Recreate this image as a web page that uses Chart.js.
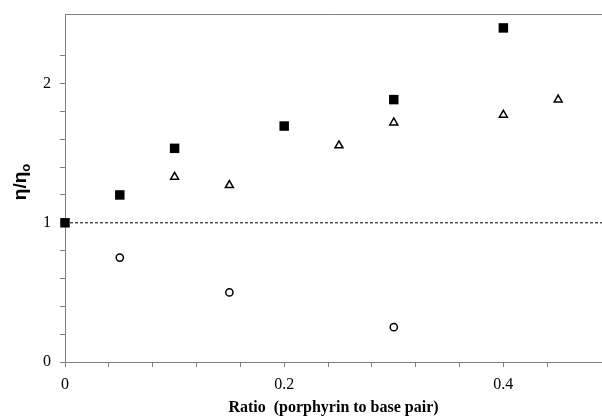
<!DOCTYPE html>
<html>
<head>
<meta charset="utf-8">
<script src="https://cdn.jsdelivr.net/npm/chart.js@4.4.1/dist/chart.umd.min.js"></script>
<style>
    html, body { margin: 0; padding: 0; background: #fff; }
    #wrap { width: 602px; height: 420px; }
</style>
</head>
<body>
<div id="wrap"><canvas id="viscChart" width="602" height="420"></canvas></div>
<script>
// ratio (porphyrin to base pair) vs relative viscosity
const squareX = [0, 0.05, 0.1, 0.2, 0.3, 0.4];
const squareY = [1.0, 1.2, 1.535, 1.695, 1.885, 2.4];

const triangleX = [0.1, 0.15, 0.25, 0.3, 0.4, 0.45];
const triangleY = [1.33, 1.27, 1.555, 1.72, 1.775, 1.885];

const circleX = [0.05, 0.15, 0.3];
const circleY = [0.75, 0.5, 0.25];

const refLineX = [0, 0.49];
const refLineY = [1, 1];

const xTickLabels = [0, 0.2, 0.4];
const yTickLabels = [0, 1, 2];

const AXIS_GREY = '#7f7f7f';

function toPoints(xs, ys) {
    return xs.map((x, i) => ({ x: x, y: ys[i] }));
}

function isLabelled(value, list) {
    return list.some(v => Math.abs(v - value) < 1e-6);
}

// keep only ticks sitting on the step (drop the extra max tick)
function onStep(step) {
    return function(scale) {
        scale.ticks = scale.ticks.filter(t => Math.abs(t.value / step - Math.round(t.value / step)) < 1e-6);
    };
}

// fixed axis size, no label overflow padding
function fixSize(prop, size) {
    return function(scale) {
        scale[prop] = size;
        scale.paddingTop = 0;
        scale.paddingBottom = 0;
        scale.paddingLeft = 0;
        scale.paddingRight = 0;
    };
}

const frameAndTitles = {
    id: 'frameAndTitles',
    afterDraw(chart) {
        const { ctx, chartArea } = chart;
        ctx.save();
        // top frame line
        ctx.strokeStyle = AXIS_GREY;
        ctx.lineWidth = 1;
        ctx.beginPath();
        ctx.moveTo(chartArea.left, chartArea.top + 0.5);
        ctx.lineTo(chartArea.right, chartArea.top + 0.5);
        ctx.stroke();

        // y axis title: eta / eta-sub-o
        ctx.translate(21, 182);
        ctx.rotate(-Math.PI / 2);
        ctx.fillStyle = '#000';
        ctx.textBaseline = 'middle';
        ctx.textAlign = 'left';
        ctx.font = 'bold 19px "Liberation Sans", Arial, sans-serif';
        const main = 'η/η';
        const w = ctx.measureText(main).width;
        ctx.font = 'bold 13px "Liberation Sans", Arial, sans-serif';
        const ws = ctx.measureText('o').width;
        const start = -(w + ws) / 2;
        ctx.font = 'bold 19px "Liberation Sans", Arial, sans-serif';
        ctx.fillText(main, start, 0);
        ctx.font = 'bold 13px "Liberation Sans", Arial, sans-serif';
        ctx.fillText('o', start + w, 5);
        ctx.restore();
    }
};

const ctx = document.getElementById('viscChart');

new Chart(ctx, {
    type: 'scatter',
    data: {
        datasets: [
            {
                label: 'squares',
                data: toPoints(squareX, squareY),
                pointStyle: 'rect',
                pointRadius: 6.7,
                backgroundColor: '#000',
                borderColor: '#000',
                borderWidth: 0,
                clip: false,
                order: 1
            },
            {
                label: 'triangles',
                data: toPoints(triangleX, triangleY),
                pointStyle: 'triangle',
                pointRadius: 4.6,
                backgroundColor: '#fff',
                borderColor: '#000',
                borderWidth: 1.5,
                clip: false,
                order: 1
            },
            {
                label: 'circles',
                data: toPoints(circleX, circleY),
                pointStyle: 'circle',
                pointRadius: 3.6,
                backgroundColor: '#fff',
                borderColor: '#000',
                borderWidth: 1.5,
                clip: false,
                order: 1
            },
            {
                type: 'line',
                label: 'reference',
                data: toPoints(refLineX, refLineY),
                borderColor: '#000',
                borderWidth: 1,
                borderDash: [3, 2],
                pointRadius: 0,
                fill: false,
                order: 2
            }
        ]
    },
    options: {
        responsive: false,
        animation: false,
        maintainAspectRatio: false,
        layout: {
            autoPadding: false,
            padding: { top: 14, right: 0, left: 0, bottom: 0 }
        },
        plugins: {
            legend: { display: false },
            tooltip: { enabled: false }
        },
        scales: {
            x: {
                type: 'linear',
                min: 0,
                max: 0.49,
                afterBuildTicks: onStep(0.04),
                afterFit: fixSize('height', 58),
                ticks: {
                    stepSize: 0.04,
                    autoSkip: false,
                    maxRotation: 0,
                    padding: 8,
                    color: '#000',
                    font: { family: '"Liberation Serif", "Times New Roman", serif', size: 16 },
                    callback(value) {
                        return isLabelled(value, xTickLabels) ? String(Math.round(value * 10) / 10) : '';
                    }
                },
                grid: {
                    drawOnChartArea: false,
                    drawTicks: true,
                    tickLength: 5,
                    color: AXIS_GREY
                },
                border: { color: AXIS_GREY, width: 1 },
                title: {
                    display: true,
                    text: 'Ratio  (porphyrin to base pair)',
                    color: '#000',
                    font: { family: '"Liberation Serif", "Times New Roman", serif', size: 16, weight: 'bold' },
                    padding: { top: 0, bottom: 3 }
                }
            },
            y: {
                type: 'linear',
                min: 0,
                max: 2.5,
                afterBuildTicks: onStep(0.2),
                afterFit: fixSize('width', 65),
                ticks: {
                    stepSize: 0.2,
                    autoSkip: false,
                    padding: 9,
                    color: '#000',
                    font: { family: '"Liberation Serif", "Times New Roman", serif', size: 16 },
                    callback(value) {
                        return isLabelled(value, yTickLabels) ? String(Math.round(value)) : '';
                    }
                },
                grid: {
                    drawOnChartArea: false,
                    drawTicks: true,
                    tickLength: 5,
                    color: AXIS_GREY
                },
                border: { color: AXIS_GREY, width: 1 }
            }
        }
    },
    plugins: [frameAndTitles]
});
</script>
</body>
</html>
